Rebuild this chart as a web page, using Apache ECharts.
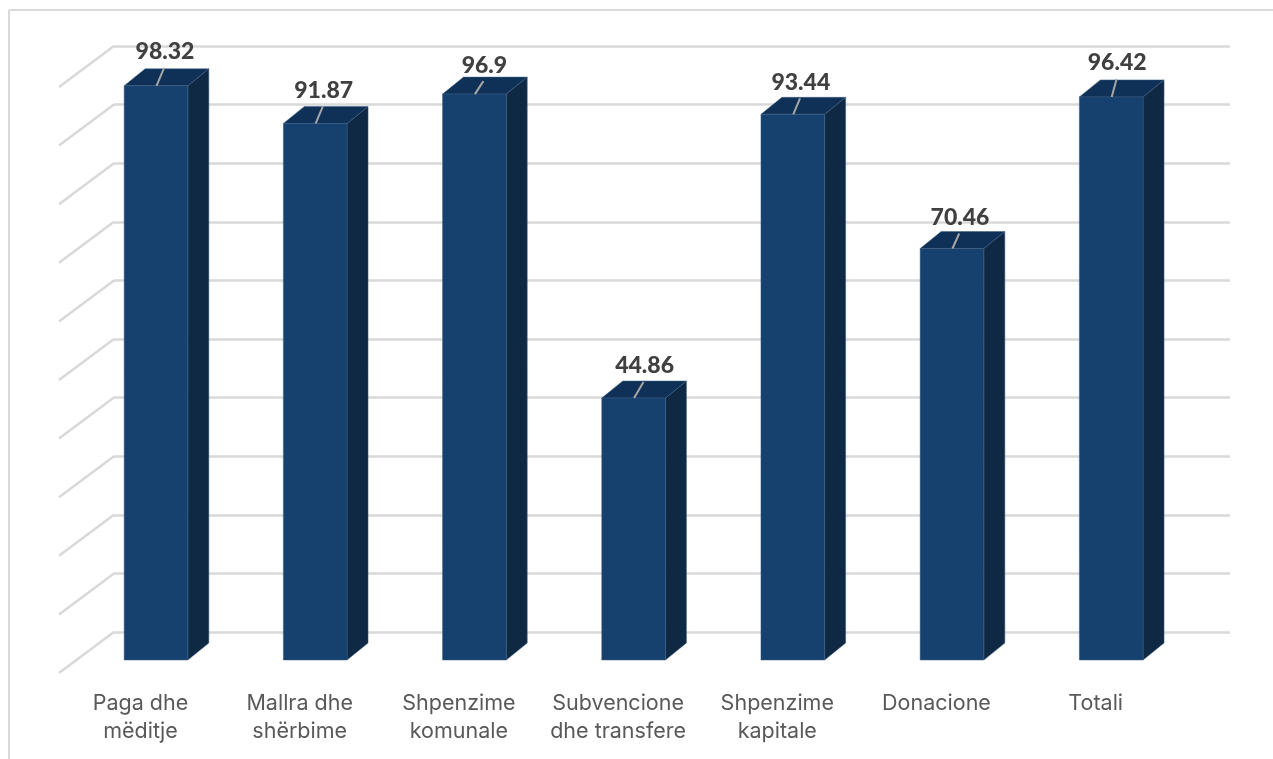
<!DOCTYPE html>
<html>
<head>
<meta charset="utf-8">
<style>html,body{margin:0;padding:0;background:#fff}#c{width:1273px;height:759px}</style>
<script src="https://cdn.jsdelivr.net/npm/echarts@6/dist/echarts.min.js"></script>
</head>
<body>
<div id="c"></div>
<script>
const categories = ['Paga dhe\nmëditje','Mallra dhe\nshërbime','Shpenzime\nkomunale','Subvencione\ndhe transfere','Shpenzime\nkapitale','Donacione','Totali'];
const values = [98.32, 91.87, 96.9, 44.86, 93.44, 70.46, 96.42];
const valueTicks = [0,10,20,30,40,50,60,70,80,90,100];
const labelShift = [9, 8.5, 10, 11, 8, 8, 6];
const labelRise = [34, 33, 29, 32, 32, 31, 34];
const FRONT='#16406d', SIDE='#0f2945', TOP='#0f3158', EDGE='#3d5f82';
const DX=21, DY=17;

const chart = echarts.init(document.getElementById('c'), null, {renderer:'canvas'});
chart.setOption({
  animation:false,
  backgroundColor:'#fff',
  graphic:[
    {type:'line',silent:true,z:0,shape:{x1:9,y1:10,x2:1273,y2:10},style:{stroke:'#d9d9d9',lineWidth:2}},
    {type:'line',silent:true,z:0,shape:{x1:9,y1:10,x2:9,y2:759},style:{stroke:'#d9d9d9',lineWidth:2}}
  ],
  grid:[
    {left:76.4,width:1114.4,top:76,height:584},
    {left:114,right:43,top:46,height:586}
  ],
  xAxis:[
    {type:'category',gridIndex:0,data:categories,
      axisLine:{show:false},axisTick:{show:false},splitLine:{show:false},
      axisLabel:{interval:0,margin:30,color:'#595959',fontFamily:'Inter',fontSize:21.5,lineHeight:28,verticalAlign:'top',padding:[0,31,0,0]}},
    {type:'value',gridIndex:1,min:0,max:1,show:false}
  ],
  yAxis:[
    {type:'value',gridIndex:0,min:0,max:100,interval:10,show:false},
    {type:'value',gridIndex:1,min:0,max:100,interval:10,
      axisLine:{show:false},axisTick:{show:false},axisLabel:{show:false},
      splitLine:{show:true,lineStyle:{color:'#d9d9d9',width:2.5}}}
  ],
  series:[
    {type:'custom',xAxisIndex:1,yAxisIndex:1,z:1,silent:true,clip:false,
      data:valueTicks.map(v=>[0,v]),
      renderItem(params,api){
        const p=api.coord([api.value(0),api.value(1)]);
        return {type:'line',shape:{x1:p[0],y1:p[1],x2:p[0]-55,y2:p[1]+41},
          style:{stroke:'#d9d9d9',lineWidth:2.5}};
      }},
    {type:'custom',xAxisIndex:0,yAxisIndex:0,z:5,silent:true,clip:false,
      data:values.map((v,i)=>[i,v]),
      renderItem(params,api){
        const i=api.value(0), v=api.value(1);
        const top=api.coord([i,v]), base=api.coord([i,0]);
        const w=api.size([1,0])[0]*0.4;
        const l=top[0]-w/2, r=top[0]+w/2, t=top[1], b=base[1];
        const s=labelShift[params.dataIndex], rise=labelRise[params.dataIndex];
        return {type:'group',children:[
          {type:'polygon',shape:{points:[[r,t],[r+DX,t-DY],[r+DX,b-DY],[r,b]]},style:{fill:SIDE,stroke:EDGE,lineWidth:0.5}},
          {type:'polygon',shape:{points:[[l,t],[l+DX,t-DY],[r+DX,t-DY],[r,t]]},style:{fill:TOP,stroke:EDGE,lineWidth:0.5}},
          {type:'rect',shape:{x:l,y:t,width:w,height:b-t},style:{fill:FRONT,stroke:EDGE,lineWidth:0.5}},
          {type:'line',shape:{x1:top[0]+0.5,y1:t,x2:top[0]+s*0.9,y2:t-(rise-16)},style:{stroke:'#a6a6a6',lineWidth:2}},
          {type:'text',style:{text:String(v),x:top[0]+s,y:t-rise,align:'center',verticalAlign:'middle',
            fill:'#404040',font:'900 23px Lato'}}
        ]};
      }}
  ]
});
</script>
</body>
</html>
